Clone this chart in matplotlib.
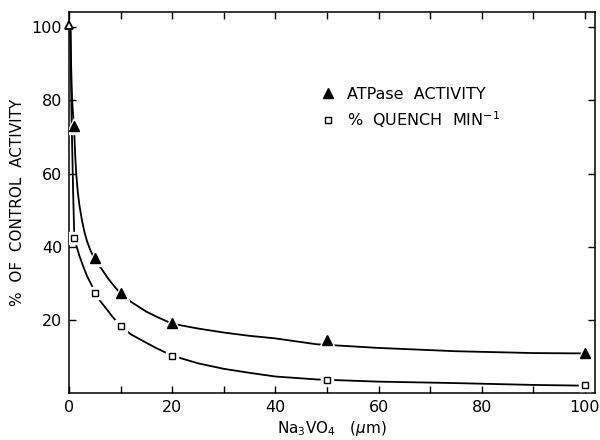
import numpy as np
import matplotlib
matplotlib.use('Agg')
import matplotlib.pyplot as plt
from matplotlib.lines import Line2D

# measured points
atp_x = [1, 5, 10, 20, 50, 100]
atp_y = [73, 37, 27.4, 19.1, 14.6, 11.0]
ctrl_x = [0]
ctrl_y = [100.5]
qu_x = [1, 5, 10, 20, 50, 100]
qu_y = [42.5, 27.5, 18.4, 10.3, 3.7, 2.2]

# fitted curves
atp_cx = [0.3, 0.4, 0.6, 1.0, 1.2, 1.4, 1.7, 2.0, 2.5, 3.0, 3.5, 4.1, 5, 6.3, 7.5, 8.9, 10,
          12, 15, 17, 20, 25, 30, 35, 40, 48, 60, 75, 90, 100]
atp_cy = [100, 90, 80, 72, 65, 60, 55, 51.5, 47.3, 44, 41.5, 39.2, 36.5, 34, 31.5, 29, 27.3,
          25, 22.3, 20.9, 19, 17.7, 16.6, 15.7, 15, 13.4, 12.4, 11.5, 11.0, 10.9]
qu_cx = [0.25, 0.5, 0.8, 1.0, 1.2, 1.5, 2.0, 2.8, 3.5, 4.4, 5, 6, 7.5, 8.5, 10, 12, 15, 17,
         20, 25, 30, 35, 40, 48, 60, 75, 90, 100]
qu_cy = [100, 75, 55, 44, 41.5, 40, 37.6, 34.5, 32, 29.5, 27.5, 25.3, 22.6, 20.8, 18.4, 16.1,
         13.8, 12.3, 10.3, 8.2, 6.7, 5.6, 4.6, 3.8, 3.2, 2.8, 2.3, 2.1]

fig = plt.figure(figsize=(6, 4.4), dpi=100)
ax = fig.add_axes([0.115, 0.106, 0.877, 0.866])

ax.plot(atp_cx, atp_cy, color='black', lw=1.3, zorder=2)
ax.plot(qu_cx, qu_cy, color='black', lw=1.3, zorder=2)

# white halos give the little gaps in the line around each marker
ax.plot(atp_x, atp_y, ls='none', marker='^', ms=12, color='white', zorder=3)
ax.plot(qu_x, qu_y, ls='none', marker='s', ms=9, color='white', zorder=3)

ax.plot(atp_x, atp_y, ls='none', marker='^', ms=6.5, color='black', zorder=4)
ax.plot(qu_x, qu_y, ls='none', marker='s', ms=4, mfc='white', mec='black', mew=1, zorder=4)
ax.plot(ctrl_x, ctrl_y, ls='none', marker='^', ms=6, mfc='white', mec='black', mew=1.3,
        zorder=4, clip_on=False)

ax.set_xlim(0, 102)
ax.set_ylim(0, 104)
ax.set_xticks([0, 20, 40, 60, 80, 100])
ax.set_xticks(np.arange(10, 101, 20), minor=True)
ax.set_yticks([20, 40, 60, 80, 100])
ax.tick_params(which='both', direction='in', length=5, width=1, top=True, right=True,
               labelsize=11.5, pad=5)
for s in ax.spines.values():
    s.set_linewidth(1.1)

ax.set_xlabel(r'Na$_3$VO$_4$   ($\mu$m)', fontsize=11, labelpad=3)
ax.set_ylabel('%  OF  CONTROL  ACTIVITY', fontsize=11, labelpad=5)

handles = [Line2D([], [], ls='none', marker='^', ms=6.5, color='black'),
           Line2D([], [], ls='none', marker='s', ms=4, mfc='white', mec='black')]
ax.legend(handles, ['ATPase  ACTIVITY', '%  QUENCH  MIN$^{-1}$'], loc='upper left',
          bbox_to_anchor=(0.452, 0.842), frameon=False, fontsize=11.5,
          handlelength=0.8, handletextpad=0.8, labelspacing=0.45)

fig.savefig('out.png', dpi=100)
